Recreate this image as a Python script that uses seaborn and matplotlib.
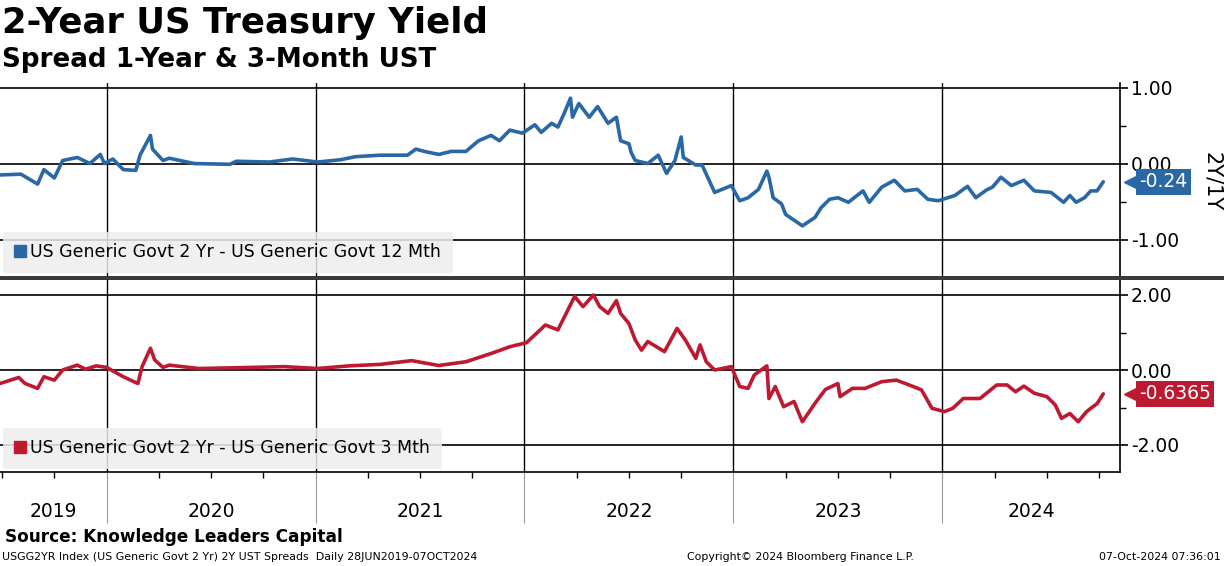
import numpy as np
import pandas as pd
import seaborn as sns
import matplotlib.pyplot as plt
import matplotlib.transforms as mtransforms
from matplotlib.lines import Line2D
from matplotlib.patches import Rectangle
from matplotlib.ticker import FormatStrFormatter

# dates as decimal years, values in percentage points
t_2y1y = [2019.49, 2019.59, 2019.67, 2019.70, 2019.75, 2019.79, 2019.86, 2019.92, 2019.97, 2019.99,
          2020.03, 2020.08, 2020.14, 2020.16, 2020.21, 2020.22, 2020.27, 2020.30, 2020.42, 2020.59,
          2020.62, 2020.78, 2020.89, 2021.01, 2021.12, 2021.19, 2021.31, 2021.44, 2021.48, 2021.52,
          2021.59, 2021.65, 2021.72, 2021.78, 2021.84, 2021.88, 2021.93, 2021.99, 2022.05, 2022.08,
          2022.13, 2022.16, 2022.19, 2022.22, 2022.23, 2022.26, 2022.31, 2022.35, 2022.40, 2022.44,
          2022.46, 2022.50, 2022.51, 2022.53, 2022.59, 2022.64, 2022.68, 2022.72, 2022.75, 2022.76,
          2022.82, 2022.85, 2022.91, 2022.99, 2023.03, 2023.07, 2023.12, 2023.16, 2023.17, 2023.19,
          2023.23, 2023.25, 2023.33, 2023.39, 2023.42, 2023.46, 2023.50, 2023.55, 2023.62, 2023.65,
          2023.71, 2023.77, 2023.82, 2023.88, 2023.93, 2023.98, 2024.06, 2024.12, 2024.16, 2024.21,
          2024.24, 2024.28, 2024.33, 2024.39, 2024.44, 2024.52, 2024.58, 2024.61, 2024.64, 2024.68,
          2024.71, 2024.74, 2024.77]
v_2y1y = [-0.15, -0.14, -0.27, -0.08, -0.19, 0.04, 0.08, 0.00, 0.12, 0.00,
          0.06, -0.08, -0.09, 0.11, 0.37, 0.19, 0.04, 0.07, 0.00, -0.01,
          0.03, 0.02, 0.06, 0.02, 0.05, 0.09, 0.11, 0.11, 0.19, 0.16,
          0.12, 0.16, 0.16, 0.30, 0.37, 0.30, 0.44, 0.40, 0.51, 0.41,
          0.53, 0.48, 0.66, 0.86, 0.61, 0.79, 0.61, 0.75, 0.53, 0.61,
          0.30, 0.26, 0.15, 0.04, 0.00, 0.11, -0.13, 0.04, 0.35, 0.08,
          -0.02, -0.02, -0.38, -0.29, -0.49, -0.45, -0.34, -0.10, -0.18, -0.45,
          -0.53, -0.67, -0.82, -0.71, -0.58, -0.47, -0.45, -0.51, -0.36, -0.51,
          -0.31, -0.22, -0.36, -0.34, -0.47, -0.49, -0.42, -0.30, -0.45, -0.35,
          -0.31, -0.18, -0.29, -0.22, -0.36, -0.38, -0.51, -0.42, -0.51, -0.45,
          -0.36, -0.36, -0.24]

t_2y3m = [2019.49, 2019.58, 2019.61, 2019.67, 2019.70, 2019.75, 2019.79, 2019.86, 2019.90, 2019.95,
          2020.00, 2020.08, 2020.15, 2020.17, 2020.21, 2020.23, 2020.27, 2020.30, 2020.44, 2020.62,
          2020.85, 2021.01, 2021.16, 2021.31, 2021.46, 2021.59, 2021.72, 2021.84, 2021.93, 2022.01,
          2022.10, 2022.16, 2022.24, 2022.28, 2022.33, 2022.36, 2022.40, 2022.44, 2022.46, 2022.50,
          2022.53, 2022.56, 2022.59, 2022.67, 2022.73, 2022.77, 2022.82, 2022.84, 2022.87, 2022.91,
          2022.99, 2023.03, 2023.07, 2023.10, 2023.16, 2023.17, 2023.20, 2023.24, 2023.29, 2023.33,
          2023.39, 2023.44, 2023.50, 2023.51, 2023.57, 2023.63, 2023.71, 2023.78, 2023.86, 2023.90,
          2023.95, 2024.01, 2024.05, 2024.10, 2024.18, 2024.26, 2024.31, 2024.35, 2024.39, 2024.44,
          2024.50, 2024.54, 2024.57, 2024.61, 2024.65, 2024.69, 2024.72, 2024.74, 2024.77]
v_2y3m = [-0.36, -0.20, -0.36, -0.49, -0.18, -0.27, 0.00, 0.13, 0.02, 0.11,
          0.07, -0.18, -0.36, 0.09, 0.58, 0.27, 0.07, 0.13, 0.04, 0.06,
          0.09, 0.04, 0.11, 0.15, 0.25, 0.12, 0.22, 0.44, 0.62, 0.73,
          1.20, 1.07, 1.96, 1.69, 2.00, 1.69, 1.51, 1.85, 1.51, 1.24,
          0.80, 0.53, 0.76, 0.49, 1.11, 0.80, 0.31, 0.67, 0.22, 0.00,
          0.09, -0.44, -0.49, -0.13, 0.11, -0.76, -0.44, -0.98, -0.84, -1.38,
          -0.89, -0.52, -0.36, -0.71, -0.49, -0.49, -0.31, -0.27, -0.44, -0.53,
          -1.02, -1.11, -1.02, -0.76, -0.76, -0.40, -0.40, -0.58, -0.43, -0.62,
          -0.71, -0.93, -1.29, -1.16, -1.38, -1.11, -0.98, -0.90, -0.6365]

year_labels = [2019, 2020, 2021, 2022, 2023, 2024]
last_2y1y = "-0.24"
last_2y3m = "-0.6365"
label_2y1y = "US Generic Govt 2 Yr - US Generic Govt 12 Mth"
label_2y3m = "US Generic Govt 2 Yr - US Generic Govt 3 Mth"

BLUE = "#2a67a5"
RED = "#bd1a32"
XMIN, XMAX = 2019.49, 2024.85

sns.set_style("white")
plt.rcParams['font.family'] = ['DejaVu Sans']
plt.rcParams['axes.unicode_minus'] = False
plt.rcParams['text.color'] = 'black'
plt.rcParams['xtick.color'] = 'black'
plt.rcParams['ytick.color'] = 'black'

fig = plt.figure(figsize=(12.24, 5.66), dpi=100)
ax1 = fig.add_axes([0, 1 - 276 / 566, 1120 / 1224, 193 / 566])
ax2 = fig.add_axes([0, 1 - 472 / 566, 1120 / 1224, 192 / 566])

df1 = pd.DataFrame({"t": t_2y1y, "v": v_2y1y})
df2 = pd.DataFrame({"t": t_2y3m, "v": v_2y3m})

panels = [
    (ax1, df1, BLUE, (-1.48, 1.06), [-1, 0, 1], np.arange(-1.0, 1.01, 0.5), label_2y1y, last_2y1y),
    (ax2, df2, RED, (-2.72, 2.40), [-2, 0, 2], np.arange(-2.0, 2.01, 1.0), label_2y3m, last_2y3m),
]

year_bounds = [2020, 2021, 2022, 2023, 2024]
quarters = np.arange(2019.5, 2024.8, 0.25)

for ax, df, col, ylim, major, minor, lab, last in panels:
    sns.lineplot(data=df, x="t", y="v", ax=ax, color=col, linewidth=2.6, zorder=3)
    ax.set_xlim(XMIN, XMAX)
    ax.set_ylim(*ylim)
    ax.set_xlabel("")
    ax.set_ylabel("")
    ax.yaxis.tick_right()
    ax.set_yticks(major)
    ax.set_yticks(minor, minor=True)
    ax.yaxis.set_major_formatter(FormatStrFormatter('%.2f'))
    ax.tick_params(axis='y', which='major', length=6, width=1.2, color='black', labelcolor='black',
                   labelsize=13.5, pad=2, right=True, left=False)
    ax.tick_params(axis='y', which='minor', length=4, width=1, color='black', right=True, left=False)
    ax.set_xticks(year_bounds)
    ax.grid(axis='y', which='major', color='black', linewidth=1.2)
    ax.grid(axis='x', which='major', color='black', linewidth=1.0)
    for s in ['left', 'top']:
        ax.spines[s].set_visible(False)
    ax.spines['right'].set_color('black')
    ax.spines['right'].set_linewidth(1.2)

    # value tag at the last point
    val = df["v"].iloc[-1]
    trans = mtransforms.blended_transform_factory(ax.transAxes, ax.transData)
    ax.plot([1.0145], [val], marker='<', ms=17, color=col, transform=trans, clip_on=False, zorder=5)
    ax.text(1.017, val, last, transform=trans, ha='left', va='center', color='white',
            fontsize=13.5, clip_on=False, zorder=6,
            bbox=dict(boxstyle='square,pad=0.18', fc=col, ec='none'))

    h = [Line2D([], [], marker='s', ls='none', color=col, ms=9)]
    leg = ax.legend(h, [lab], loc='lower left', bbox_to_anchor=(0.0, 0.0), frameon=True,
                    fontsize=12.5, handlelength=0.6, handletextpad=0.3, borderpad=0.65,
                    borderaxespad=0.2, fancybox=True)
    leg.get_frame().set_facecolor('#eeeeee')
    leg.get_frame().set_edgecolor('none')
    leg.get_frame().set_alpha(0.85)
    for txt in leg.get_texts():
        txt.set_color('black')

ax1.spines['bottom'].set_visible(False)
ax1.tick_params(axis='x', which='both', bottom=False, labelbottom=False)
ax2.spines['bottom'].set_color('black')
ax2.spines['bottom'].set_linewidth(1.2)
ax2.set_xticks(quarters, minor=True)
ax2.tick_params(axis='x', which='major', length=37, width=0.8, color='#9a9a9a',
                direction='out', labelbottom=False, bottom=True)
ax2.tick_params(axis='x', which='minor', length=4, width=1, color='black', bottom=True)

ax1.text(1.082, 0.49, "2Y/1Y", transform=ax1.transAxes, rotation=270, ha='center', va='center',
         fontsize=15)

# year labels centred in the visible part of each year
tx = mtransforms.blended_transform_factory(ax2.transData, ax2.transAxes)
for y in year_labels:
    lo, hi = max(y, XMIN), min(y + 1, XMAX)
    ax2.text((lo + hi) / 2, -0.205, str(y), transform=tx, ha='center', va='center', fontsize=13.5)

# panel separator
fig.patches.append(Rectangle((0, 1 - 280 / 566), 1, 4 / 566, transform=fig.transFigure,
                             facecolor='#3a3a3a', edgecolor='none', zorder=10))

fig.text(0.002, 1 - 23 / 566, "2-Year US Treasury Yield", fontsize=25.6, fontweight='bold',
         ha='left', va='center')
fig.text(0.002, 1 - 60 / 566, "Spread 1-Year & 3-Month UST", fontsize=18.8, fontweight='bold',
         ha='left', va='center')
fig.text(0.004, 1 - 537 / 566, "Source: Knowledge Leaders Capital", fontsize=12.2, fontweight='bold',
         ha='left', va='center')
fig.text(0.002, 1 - 557 / 566, "USGG2YR Index (US Generic Govt 2 Yr) 2Y UST Spreads  Daily 28JUN2019-07OCT2024",
         fontsize=7.9, ha='left', va='center')
fig.text(800 / 1224, 1 - 557 / 566, "Copyright\u00a9 2024 Bloomberg Finance L.P.", fontsize=7.9,
         ha='center', va='center')
fig.text(0.997, 1 - 557 / 566, "07-Oct-2024 07:36:01", fontsize=7.9, ha='right', va='center')

fig.savefig("out.png", dpi=100)
